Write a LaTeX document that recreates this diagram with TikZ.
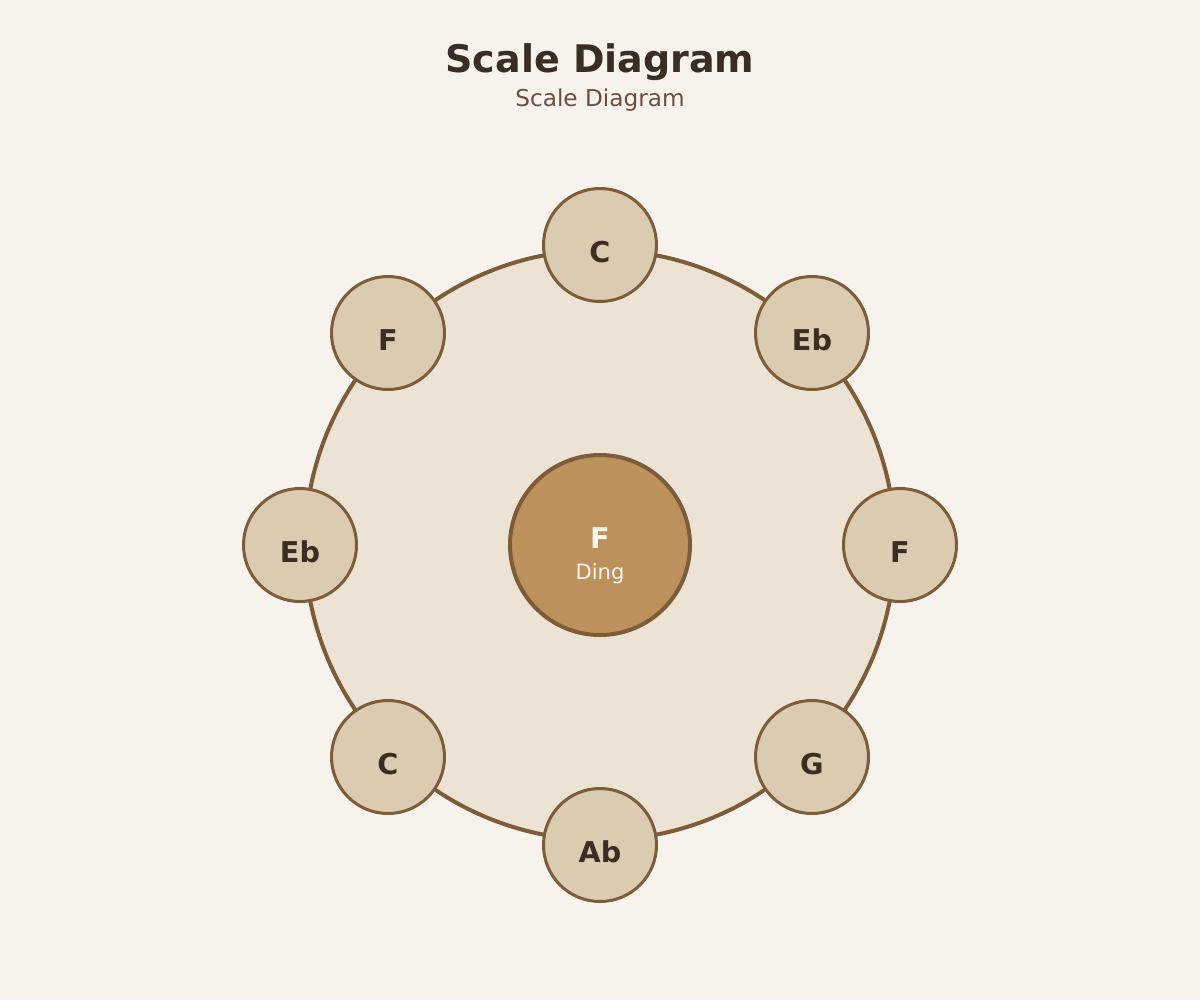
\documentclass[tikz,border=0pt]{standalone}
\usepackage{fontspec}
\setmainfont{DejaVu Sans}
\definecolor{paper}{HTML}{F7F2EC}
\definecolor{pan}{HTML}{EDE3D4}
\definecolor{rim}{HTML}{7D5C3A}
\definecolor{tone}{HTML}{DBCBB0}
\definecolor{ding}{HTML}{BC915C}
\definecolor{ink}{HTML}{3A2E24}
\definecolor{subink}{HTML}{6B5040}
\definecolor{pale}{HTML}{FDF6EC}
\tikzset{
  tonefield/.style={circle, draw=rim, line width=2.25pt, fill=tone,
    minimum size=84.75pt, inner sep=0pt},
  tonelabel/.style={text=ink, yshift=-5.25pt,
    font=\fontsize{21.5}{25}\selectfont\bfseries},
  dingfield/.style={circle, draw=rim, line width=3pt, fill=ding,
    minimum size=135pt, inner sep=0pt},
}
\begin{document}
\begin{tikzpicture}[x=0.75pt, y=-0.75pt]

  \fill[paper] (0,0) rectangle (1200,1000);
  \useasboundingbox (0,0) rectangle (1200,1000);

  \node[text=ink, font=\fontsize{28.5}{34}\selectfont\bfseries] (title) at (600,62) {Scale Diagram};
  \node[text=subink, font=\fontsize{17.4}{21}\selectfont] (subtitle) at (600,100) {Scale Diagram};

  % pan body
  \draw[rim, line width=3pt, fill=pan] (600,545) circle[radius=295];

  % tone fields, clockwise from the top
  \node[tonefield] (n1) at (600,245) {};
  \node[tonefield] (n2) at (812,333) {};
  \node[tonefield] (n3) at (900,545) {};
  \node[tonefield] (n4) at (812,757) {};
  \node[tonefield] (n5) at (600,845) {};
  \node[tonefield] (n6) at (388,757) {};
  \node[tonefield] (n7) at (300,545) {};
  \node[tonefield] (n8) at (388,333) {};

  \node[tonelabel] (n1text) at (n1) {C};
  \node[tonelabel] (n2text) at (n2) {Eb};
  \node[tonelabel] (n3text) at (n3) {F};
  \node[tonelabel] (n4text) at (n4) {G};
  \node[tonelabel] (n5text) at (n5) {Ab};
  \node[tonelabel] (n6text) at (n6) {C};
  \node[tonelabel] (n7text) at (n7) {Eb};
  \node[tonelabel] (n8text) at (n8) {F};

  % centre
  \node[dingfield] (ding) at (600,545) {};
  \node[text=pale, font=\fontsize{21.5}{25}\selectfont\bfseries] (dingnote) at (600,538) {F};
  \node[text=pale, font=\fontsize{15.8}{19}\selectfont] (dinglabel) at (600,574) {Ding};
\end{tikzpicture}
\end{document}
